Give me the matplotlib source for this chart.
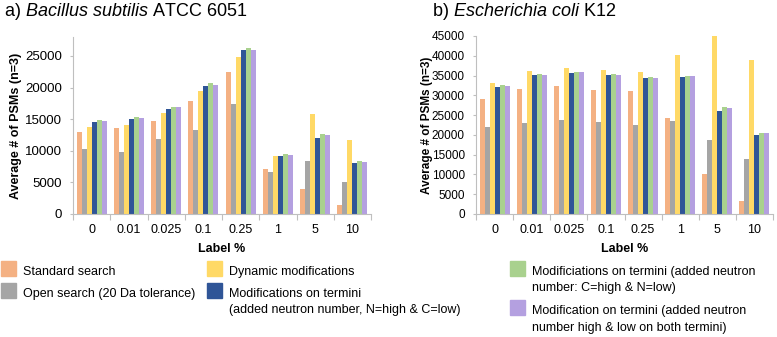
import numpy as np
import matplotlib.pyplot as plt
from matplotlib.patches import Rectangle

plt.rcParams['font.family'] = ['Liberation Sans', 'DejaVu Sans']
plt.rcParams['mathtext.fontset'] = 'custom'
plt.rcParams['mathtext.rm'] = 'Liberation Sans'
plt.rcParams['mathtext.it'] = 'Liberation Sans:italic'

label_pct = ['0', '0.01', '0.025', '0.1', '0.25', '1', '5', '10']

series_names = [
    'Standard search',
    'Open search (20 Da tolerance)',
    'Dynamic modifications',
    'Modifications on termini\n(added neutron number, N=high & C=low)',
    'Modificiations on termini (added neutron\nnumber: C=high & N=low)',
    'Modification on termini (added neutron\nnumber high & low on both termini)',
]
colors = ['#F4B183', '#A5A5A5', '#FFD966', '#2F5597', '#A9D18E', '#B4A0E0']

# a) Bacillus subtilis ATCC 6051
bsub_standard = [12900, 13600, 14700, 17850, 22450, 7100, 3900, 1500]
bsub_open = [10300, 9800, 11900, 13300, 17400, 6600, 8350, 5000]
bsub_dynamic = [13750, 14150, 16000, 19500, 24800, 9200, 15800, 11750]
bsub_nhigh = [14550, 14950, 16650, 20300, 25900, 9100, 12100, 8000]
bsub_chigh = [14800, 15300, 17000, 20700, 26200, 9500, 12650, 8400]
bsub_both = [14650, 15200, 16850, 20450, 26000, 9350, 12500, 8250]

# b) Escherichia coli K12
ecoli_standard = [29100, 31700, 32300, 31300, 31100, 24300, 10000, 3400]
ecoli_open = [22000, 23000, 23700, 23300, 22600, 23500, 18600, 13900]
ecoli_dynamic = [33200, 36200, 36800, 36400, 35900, 40200, 45000, 39000]
ecoli_nhigh = [32200, 35200, 35700, 35100, 34400, 34700, 26000, 20000]
ecoli_chigh = [32700, 35400, 35900, 35500, 34700, 35000, 27000, 20600]
ecoli_both = [32400, 35200, 35850, 35200, 34500, 34900, 26800, 20500]

W, H = 777, 337
axis_grey = '#BFBFBF'


def draw_panel(ax, series, ymax, ylabel_x, ysize, lsize):
    """Grouped bars in Excel style"""
    x = np.arange(len(label_pct))
    width = 0.135
    n = len(series)
    for i, (vals, col) in enumerate(zip(series, colors)):
        ax.bar(x + (i - (n - 1) / 2) * width, vals, width, color=col, linewidth=0)
    ax.set_xlim(-0.5, len(label_pct) - 0.5)
    ax.set_ylim(0, ymax)
    ax.set_xticks(np.arange(-0.5, len(label_pct), 1))
    ax.set_xticklabels([])
    ax.set_xticks(x, minor=True)
    ax.set_xticklabels(label_pct, minor=True)
    ax.tick_params(axis='x', which='major', length=4, color=axis_grey, direction='out')
    ax.tick_params(axis='x', which='minor', length=0, pad=7, labelsize=9)
    ax.tick_params(axis='y', length=2.5, color=axis_grey, pad=5.5, labelsize=ysize)
    for s in ['top', 'right']:
        ax.spines[s].set_visible(False)
    for s in ['left', 'bottom']:
        ax.spines[s].set_color(axis_grey)
    ax.set_ylabel('Average # of PSMs (n=3)', fontsize=lsize, fontweight='bold')
    ax.yaxis.set_label_coords(ylabel_x, 0.5)
    ax.set_xlabel('Label %', fontsize=9, fontweight='bold')
    ax.xaxis.set_label_coords(0.5, -0.198)
    ax.xaxis.label.set_va('center')


def legend_item(fig, x, y, color, text):
    """Square + text, x/y in pixels from top left"""
    fig.patches.append(Rectangle((x / W, 1 - (y + 15) / H), 15 / W, 15 / H,
                                 transform=fig.transFigure, color=color))
    for k, line in enumerate(text.split('\n')):
        fig.text((x + 22) / W, 1 - (y + 11 + k * 16.5) / H, line,
                 fontsize=9, va='center', ha='left')


fig = plt.figure(figsize=(W / 100, H / 100), dpi=100)

ax1 = fig.add_axes([73 / W, 1 - 214 / H, 298 / W, 177 / H])
draw_panel(ax1, [bsub_standard, bsub_open, bsub_dynamic, bsub_nhigh, bsub_chigh, bsub_both],
           28000, -0.171, 9.5, 9)
ax1.set_yticks(np.arange(0, 25001, 5000))

ax2 = fig.add_axes([476 / W, 1 - 214 / H, 297 / W, 178 / H])
draw_panel(ax2, [ecoli_standard, ecoli_open, ecoli_dynamic, ecoli_nhigh, ecoli_chigh, ecoli_both],
           45000, -0.145, 8.5, 8.5)
ax2.set_yticks(np.arange(0, 45001, 5000))

fig.text(4 / W, 1 - 12 / H, r'a) $\it{Bacillus\ subtilis}$ ATCC 6051', fontsize=13, va='center')
fig.text(432 / W, 1 - 11 / H, r'b) $\it{Escherichia\ coli}$ K12', fontsize=13, va='center')

legend_item(fig, 1, 261, colors[0], series_names[0])
legend_item(fig, 1, 283, colors[1], series_names[1])
legend_item(fig, 207, 261, colors[2], series_names[2])
legend_item(fig, 207, 283, colors[3], series_names[3])
legend_item(fig, 510, 261, colors[4], series_names[4])
legend_item(fig, 510, 300, colors[5], series_names[5])

fig.savefig('out.png', dpi=100)
